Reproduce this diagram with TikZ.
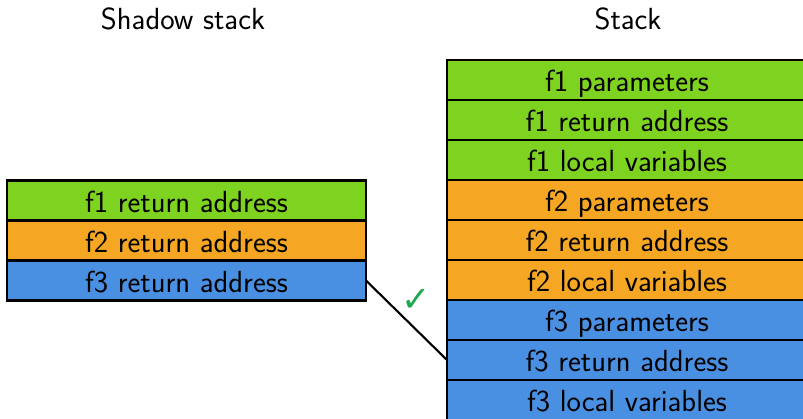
\documentclass[tikz,border=0pt]{standalone}
\usepackage{fontspec}
\usepackage{tikz}
\usepackage{xcolor}
\usetikzlibrary{positioning}

\newfontfamily\symbolfont{DejaVu Sans}

\definecolor{frameone}{HTML}{7ED321}
\definecolor{frametwo}{HTML}{F5A623}
\definecolor{framethree}{HTML}{4A90E2}
\definecolor{checkgreen}{HTML}{1FA84F}

\begin{document}
\begin{tikzpicture}[
        font=\sffamily\fontsize{17.4}{21}\selectfont,
        cell/.style={draw,line width=1.2pt,minimum width=7.18cm,minimum height=0.8cm,
            outer sep=0pt,inner sep=0pt,text height=14pt,text depth=0.4pt},
        fone/.style={cell,fill=frameone},
        ftwo/.style={cell,fill=frametwo},
        fthree/.style={cell,fill=framethree}
    ]
        % Fix the frame of the picture
        \clip (0,0) rectangle (16.06,-8.38);

        % Titles
        \node (shadowtitle) at (3.66,-0.38) {Shadow stack};
        \node (stacktitle) at (12.56,-0.38) {Stack};

        % Shadow stack
        \node[fone] (sret1) at (3.73,-4.01) {f1 return address};
        \node[ftwo,below=0pt of sret1] (sret2) {f2 return address};
        \node[fthree,below=0pt of sret2] (sret3) {f3 return address};

        % Stack
        \node[fone,minimum width=7.2cm] (par1) at (12.54,-1.6) {f1 parameters};
        \node[fone,minimum width=7.2cm,below=0pt of par1] (ret1) {f1 return address};
        \node[fone,minimum width=7.2cm,below=0pt of ret1] (loc1) {f1 local variables};
        \node[ftwo,minimum width=7.2cm,below=0pt of loc1] (par2) {f2 parameters};
        \node[ftwo,minimum width=7.2cm,below=0pt of par2] (ret2) {f2 return address};
        \node[ftwo,minimum width=7.2cm,below=0pt of ret2] (loc2) {f2 local variables};
        \node[fthree,minimum width=7.2cm,below=0pt of loc2] (par3) {f3 parameters};
        \node[fthree,minimum width=7.2cm,below=0pt of par3] (ret3) {f3 return address};
        \node[fthree,minimum width=7.2cm,below=0pt of ret3] (loc3) {f3 local variables};

        % Match the return addresses
        \draw[line width=1.2pt] (sret3.east) -- (ret3.west)
            node[midway,above right,xshift=-7pt,yshift=1pt,text=checkgreen,
                font=\symbolfont\fontsize{20}{24}\selectfont] (check) {✓};
    \end{tikzpicture}
\end{document}
